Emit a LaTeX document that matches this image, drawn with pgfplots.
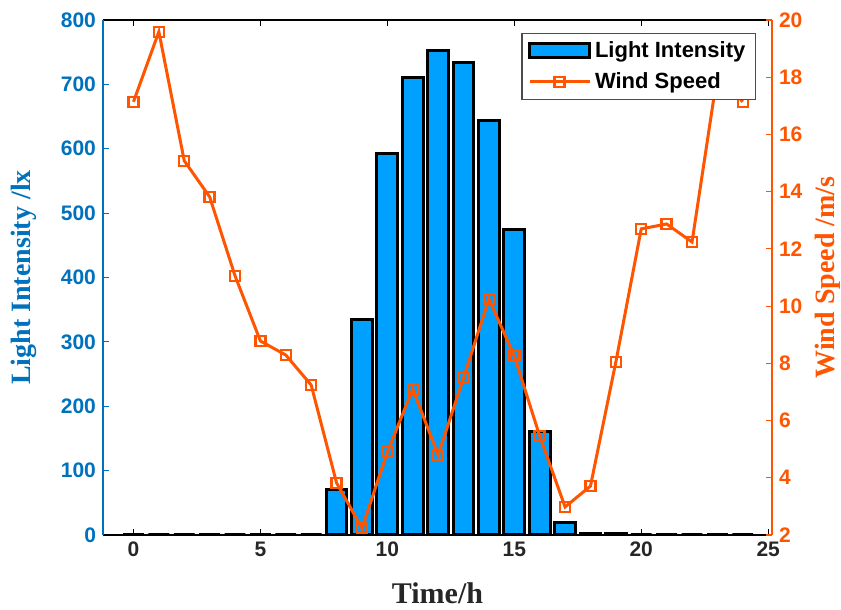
\documentclass[border=0pt]{standalone}
\usepackage{fontspec}
\setmainfont{Liberation Serif}
\setsansfont{Liberation Sans}
\usepackage{pgfplots}
\pgfplotsset{compat=1.18}

\definecolor{barblue}{RGB}{0,160,255}
\definecolor{leftblue}{RGB}{0,114,189}
\definecolor{windor}{RGB}{255,85,0}

\pgfplotstableread{
t light
0 0
1 0
2 0
3 0
4 0
5 0
6 0
7 0
8 71
9 335
10 592
11 710
12 753
13 734
14 644
15 475
16 161
17 20
18 2
19 2
20 0
21 0
22 0
23 0
24 0
}\lighttab

\pgfplotstableread{
t wind
0 17.14
1 19.59
2 15.08
3 13.82
4 11.06
5 8.78
6 8.29
7 7.24
8 3.82
9 2.24
10 4.90
11 7.10
12 4.80
13 7.49
14 10.25
15 8.26
16 5.46
17 2.98
18 3.71
19 8.05
20 12.70
21 12.87
22 12.24
23 18.10
24 17.14
}\windtab

\pgfplotsset{
  common/.style={
    width=334.5pt, height=257.5pt, scale only axis,
    xmin=-1.2, xmax=25.15,
    tick align=inside,
    major tick length=3pt,
    /pgf/number format/assume math mode=true,
    ticklabel style={font=\fontsize{10.5}{12}\selectfont\sffamily\bfseries},
  },
  barlegend/.style={legend image code/.code={\draw[##1] (0pt,-3.5pt) rectangle (30pt,3.5pt);}},
  linelegend/.style={legend image code/.code={\draw[mark repeat=2, mark phase=2, ##1]
    plot coordinates {(0pt,0pt) (15pt,0pt) (30pt,0pt)};}},
}

\begin{document}
\begin{tikzpicture}
\useasboundingbox (-51.5pt,-37.5pt) rectangle (369pt,267.5pt);

\begin{axis}[
  common,
  separate axis lines,
  axis x line*=box,
  axis y line*=left,
  ymin=0, ymax=800,
  xtick={0,5,...,25},
  ytick={0,100,...,800},
  x axis line style={-, draw=black, line width=0.8pt},
  y axis line style={-, draw=leftblue, line width=0.8pt},
  x tick style={black, line width=0.6pt},
  y tick style={leftblue, line width=0.6pt},
  yticklabel style={text=leftblue},
  xticklabel style={text=black!85},
  xlabel={\textbf{Time/h}},
  ylabel={\textbf{Light Intensity /lx}},
  xlabel style={at={(axis description cs:0.5,-0.113)}, anchor=center,
    font=\fontsize{15}{17}\selectfont, text=black!85},
  ylabel style={at={(axis description cs:-0.118,0.5)}, anchor=center,
    font=\fontsize{14}{16}\selectfont, text=leftblue},
]
\addplot[ybar, bar width=0.82, bar shift=0pt, fill=barblue, draw=black, line width=1.5pt]
  table[x=t, y=light] {\lighttab};
\end{axis}

\begin{axis}[
  common,
  axis x line=none,
  axis y line*=right,
  ymin=2, ymax=20,
  ytick={2,4,...,20},
  y axis line style={-, draw=windor, line width=0.8pt},
  y tick style={windor, line width=0.6pt},
  yticklabel style={text=windor},
  ylabel={\textbf{Wind Speed /m/s}},
  ylabel style={at={(axis description cs:1.084,0.5)}, anchor=center, rotate=0,
    font=\fontsize{14}{16}\selectfont, text=windor},
  legend style={at={(0.976,0.975)}, anchor=north east, draw=black!70,
    line width=0.6pt, fill=white,
    font=\fontsize{11}{13}\selectfont\sffamily\bfseries,
    row sep=2pt, inner xsep=3pt, inner ysep=2pt},
  legend cell align=left,
]
\addlegendimage{fill=barblue, draw=black, line width=1.5pt, barlegend}
\addlegendentry{Light Intensity}
\addplot[windor, line width=1.5pt, mark=square, mark size=2.5pt,
  mark options={fill=none, line width=1.2pt}, linelegend]
  table[x=t, y=wind] {\windtab};
\addlegendentry{Wind Speed}
\end{axis}
\end{tikzpicture}
\end{document}
